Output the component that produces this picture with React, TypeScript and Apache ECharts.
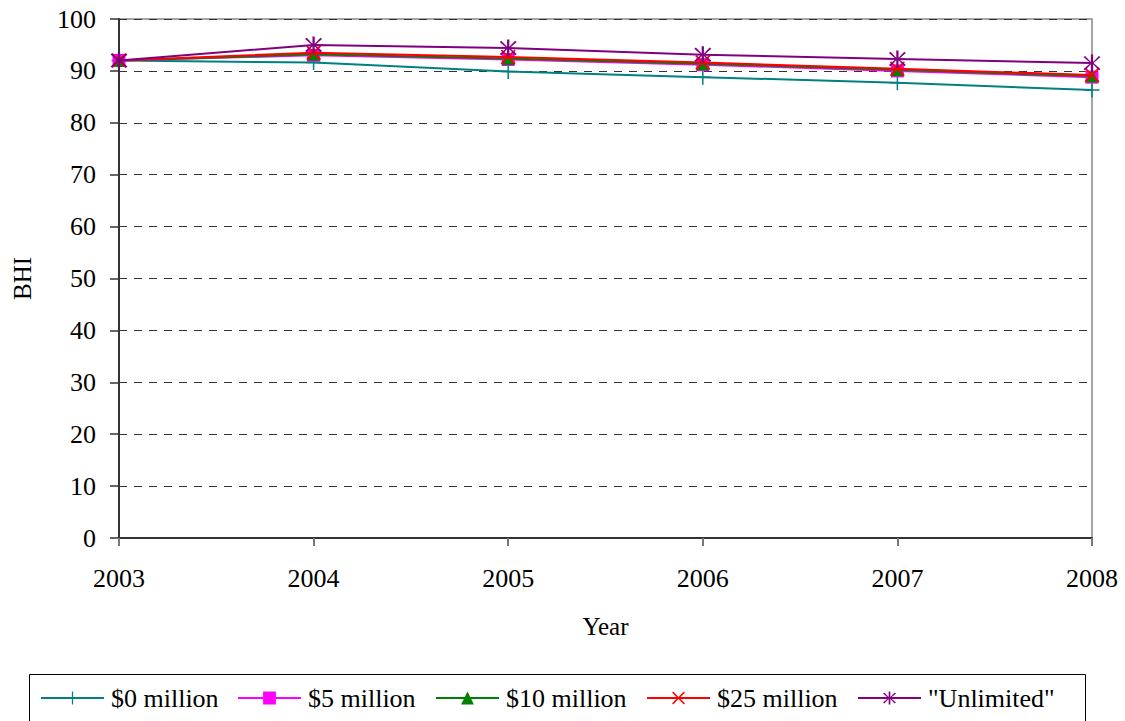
import React, { useEffect, useRef } from "react";
import * as echarts from "echarts";

const years = ["2003", "2004", "2005", "2006", "2007", "2008"];
const seriesNames = ["$0 million", "$5 million", "$10 million", "$25 million", "\"Unlimited\""];
const zeroMillion = [92.0, 91.6, 89.9, 88.8, 87.7, 86.3];
const fiveMillion = [92.0, 93.0, 92.2, 91.2, 90.0, 88.8];
const tenMillion = [92.0, 93.2, 92.4, 91.4, 90.2, 89.0];
const twentyFiveMillion = [92.0, 93.5, 92.7, 91.6, 90.4, 89.2];
const unlimited = [92.0, 95.0, 94.4, 93.1, 92.3, 91.5];

const colors = ["#008080", "#FF00FF", "#008000", "#FF0000", "#800080"];

// Stroke-like marker shapes built from thin filled bars
const plusPath =
  "path://M-1,-10L1,-10L1,-1L10,-1L10,1L1,1L1,10L-1,10L-1,1L-10,1L-10,-1L-1,-1Z";
const crossPath =
  "path://M-7.1,-8.5L0,-1.4L7.1,-8.5L8.5,-7.1L1.4,0L8.5,7.1L7.1,8.5L0,1.4L-7.1,8.5L-8.5,7.1L-1.4,0L-8.5,-7.1Z";
const starPath =
  "path://M-1,-10L1,-10L1,-1.4L6.1,-8.5L7.5,-7.1L1.4,0L7.5,7.1L6.1,8.5L1,1.4L1,10L-1,10L-1,1.4L-6.1,8.5L-7.5,7.1L-1.4,0L-7.5,-7.1L-6.1,-8.5L-1,-1.4Z";

// Left edge of each legend entry inside the legend box
const legendLefts = [40, 237, 435, 646, 857];

export default function App() {
  const ref = useRef<HTMLDivElement>(null);

  useEffect(() => {
    if (!ref.current) return;
    const chart = echarts.init(ref.current, null, { renderer: "svg" });
    const font = "Liberation Serif";
    const values = [zeroMillion, fiveMillion, tenMillion, twentyFiveMillion, unlimited];
    const symbols = [plusPath, "rect", "triangle", crossPath, starPath];
    const sizes = [15, 13, 13, 15, 17];
    const tickText = { fontFamily: font, fontSize: 26, color: "#000" };

    chart.setOption({
      animation: false,
      textStyle: { fontFamily: font, color: "#000" },
      grid: {
        left: 119,
        right: 33,
        top: 19,
        bottom: 183,
        show: true,
        borderColor: "#888888",
        borderWidth: 1.5,
      },
      legend: seriesNames.map((name, i) => ({
        top: 685,
        left: legendLefts[i],
        itemWidth: 63,
        itemHeight: 16,
        padding: 0,
        textStyle: { fontFamily: font, fontSize: 26, color: "#000", padding: [0, 0, 0, 2] },
        data: [name],
      })),
      graphic: [
        {
          type: "rect",
          shape: { x: 29.5, y: 674.5, width: 1056, height: 60 },
          style: { fill: "none", stroke: "#000", lineWidth: 1 },
          silent: true,
        },
      ],
      xAxis: {
        type: "category",
        data: years,
        boundaryGap: false,
        name: "Year",
        nameLocation: "middle",
        nameGap: 76,
        nameTextStyle: { fontFamily: font, fontSize: 25, color: "#000" },
        axisLine: { lineStyle: { color: "#333", width: 2 } },
        axisTick: { show: true, length: 8, lineStyle: { color: "#777", width: 2 } },
        axisLabel: { ...tickText, margin: 27 },
        splitLine: { show: false },
      },
      yAxis: {
        type: "value",
        min: 0,
        max: 100,
        interval: 10,
        name: "BHI",
        nameLocation: "middle",
        nameGap: 84,
        nameRotate: 90,
        nameTextStyle: { fontFamily: font, fontSize: 25, color: "#000" },
        axisLine: { show: true, lineStyle: { color: "#333", width: 2 } },
        axisTick: { show: true, length: 9, lineStyle: { color: "#333", width: 1.5 } },
        axisLabel: { ...tickText, margin: 23 },
        splitLine: { show: true, lineStyle: { color: "#333", type: [8, 7], width: 1 } },
      },
      series: seriesNames.map((name, i) => ({
        name,
        type: "line",
        data: values[i],
        color: colors[i],
        symbol: symbols[i],
        symbolSize: sizes[i],
        showAllSymbol: true,
        lineStyle: { width: 2, color: colors[i] },
        itemStyle: { color: colors[i] },
        z: 2 + i,
      })),
    });

    return () => chart.dispose();
  }, []);

  return (
    <div
      ref={ref}
      style={{ position: "absolute", left: 0, top: 0, width: 1125, height: 721, background: "#fff" }}
    />
  );
}
